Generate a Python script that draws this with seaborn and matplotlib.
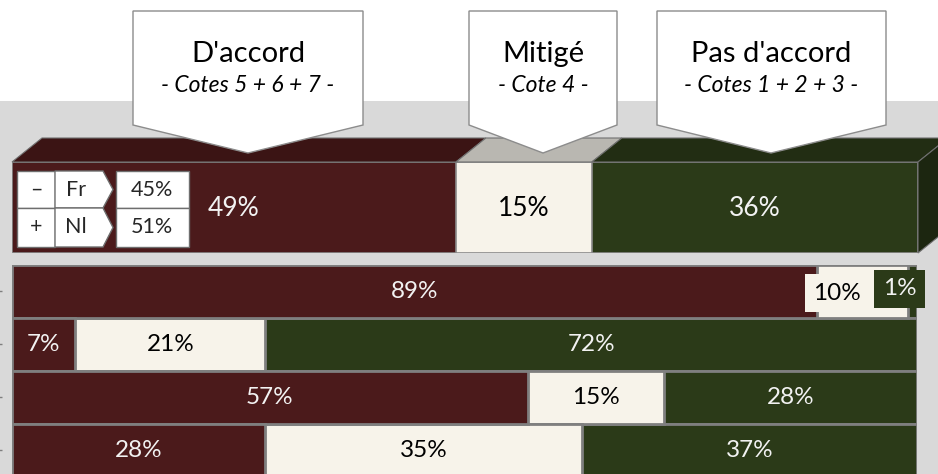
import numpy as np
import pandas as pd
import matplotlib.pyplot as plt
import seaborn as sns
from matplotlib.patches import Polygon, Rectangle

# overall score (3D bar on top)
overall_labels = ["D'accord", "Mitigé", "Pas d'accord"]
overall_subs = ["- Cotes 5 + 6 + 7 -", "- Cote 4 -", "- Cotes 1 + 2 + 3 -"]
overall_values = [49, 15, 36]

# language split for the "D'accord" share
lang_signs = ["–", "+"]
lang_names = ["Fr", "Nl"]
lang_values = [45, 51]

# detail rows
items = ["Item 1", "Item 2", "Item 3", "Item 4"]
agree = [89, 7, 57, 28]
mixed = [10, 21, 15, 35]
disagree = [1, 72, 28, 37]

RED, CREAM, GREEN = "#4b1a1b", "#f7f3ea", "#2b3a18"
RED_TOP, CREAM_TOP, GREEN_TOP = "#3b1414", "#b9b7b1", "#222d13"
GREEN_SIDE = "#1c2610"
EDGE = "#7f7f7f"

W, H = 938, 474

sns.set_theme(style="white")
plt.rcParams["font.family"] = ["Lato", "DejaVu Sans"]

fig = plt.figure(figsize=(W / 100, H / 100), dpi=100)
fig.patch.set_facecolor("white")


def fx(x):
    return x / W


def fy(y):
    return 1 - y / H


def pix(pts):
    return [(fx(x), fy(y)) for x, y in pts]


# grey panel behind the bars
fig.add_artist(Rectangle((0, 0), 1, fy(101), transform=fig.transFigure,
                         facecolor="#d9d9d9", edgecolor="none", zorder=-5))

# ---- top 3D bar ----
ax_top = fig.add_axes([fx(12), fy(253), fx(918) - fx(12), fy(162) - fy(253)])
top_df = pd.DataFrame({"seg": ["Total"], "agree": [overall_values[0]],
                       "to_mixed": [overall_values[0] + overall_values[1]],
                       "total": [sum(overall_values)]})
for col, c in [("total", GREEN), ("to_mixed", CREAM), ("agree", RED)]:
    sns.barplot(data=top_df, x=col, y="seg", orient="h", color=c, saturation=1,
                width=1, edgecolor="#8a8a8a", linewidth=1.2, ax=ax_top)
ax_top.set_xlim(0, 100)
ax_top.set_ylim(0.5, -0.5)
ax_top.axis("off")

dx, dy = 30 / 906 * 100, 24 / 91
starts = np.concatenate([[0], np.cumsum(overall_values)[:-1]])
ends = np.cumsum(overall_values)
for s, e, c in zip(starts, ends, [RED_TOP, CREAM_TOP, GREEN_TOP]):
    ax_top.add_patch(Polygon([(s, -0.5), (e, -0.5), (e + dx, -0.5 - dy), (s + dx, -0.5 - dy)],
                             closed=True, facecolor=c, edgecolor="#6f6f6f", linewidth=0.8,
                             clip_on=False))
ax_top.add_patch(Polygon([(ends[-1], -0.5), (ends[-1] + dx, -0.5 - dy),
                          (ends[-1] + dx, 0.5 - dy), (ends[-1], 0.5)],
                         closed=True, facecolor=GREEN_SIDE, edgecolor="#6f6f6f",
                         linewidth=0.8, clip_on=False))
for s, e, v, c in zip(starts, ends, overall_values, ["#f2f2f2", "black", "#f2f2f2"]):
    ax_top.text((s + e) / 2, 0.01, f"{v}%", color=c, fontsize=19,
                ha="center", va="center")

# callouts
callouts = [(133, 363, 248), (469, 617, 543), (657, 886, 771)]
for (x0, x1, tip), lab, sub in zip(callouts, overall_labels, overall_subs):
    fig.add_artist(Polygon(pix([(x0, 11), (x1, 11), (x1, 125), (tip, 153), (x0, 125)]),
                           closed=True, transform=fig.transFigure, facecolor="white",
                           edgecolor="#8c8c8c", linewidth=1, zorder=2))
    cx = (x0 + x1) / 2
    fig.text(fx(cx), fy(54), lab, ha="center", va="center", fontsize=21,
             color="black", zorder=3)
    fig.text(fx(cx), fy(86), sub, ha="center", va="center", fontsize=16.5,
             style="italic", color="black", zorder=3)

# Fr / Nl mini table
rows_y = [(171, 208), (208, 247)]
for (y0, y1), sign, name, v in zip(rows_y, lang_signs, lang_names, lang_values):
    ym = (y0 + y1) / 2
    fig.add_artist(Polygon(pix([(17, y0), (55, y0), (55, y1), (17, y1)]),
                           transform=fig.transFigure, facecolor="white",
                           edgecolor="#6e6e6e", linewidth=1, zorder=2))
    fig.add_artist(Polygon(pix([(55, y0), (103, y0), (113, ym), (103, y1), (55, y1)]),
                           transform=fig.transFigure, facecolor="white",
                           edgecolor="#6e6e6e", linewidth=1, zorder=2))
    fig.add_artist(Polygon(pix([(116, y0), (189, y0), (189, y1), (116, y1)]),
                           transform=fig.transFigure, facecolor="white",
                           edgecolor="#6e6e6e", linewidth=1, zorder=2))
    fig.text(fx(36), fy(ym), sign, ha="center", va="center", fontsize=15.5, zorder=3)
    fig.text(fx(76), fy(ym), name, ha="center", va="center", fontsize=15.5, zorder=3)
    fig.text(fx(152), fy(ym), f"{v}%", ha="center", va="center", fontsize=15.5, zorder=3)

# ---- detail bars ----
ax_bot = fig.add_axes([fx(12), 0, fx(917) - fx(12), fy(264.5)])
df = pd.DataFrame({"item": items, "agree": agree, "mixed": mixed, "disagree": disagree})
df["to_mixed"] = df["agree"] + df["mixed"]
df["total"] = df["to_mixed"] + df["disagree"]
for col, c in [("total", GREEN), ("to_mixed", CREAM), ("agree", RED)]:
    sns.barplot(data=df, x=col, y="item", orient="h", color=c, saturation=1,
                width=1, edgecolor=EDGE, linewidth=2, ax=ax_bot)
ax_bot.set_xlim(0, 100)
ax_bot.set_ylim(-0.5 + (474 - 264.5) / 53, -0.5)
ax_bot.set_xlabel("")
ax_bot.set_ylabel("")
ax_bot.set_xticks([])
for sp in ax_bot.spines.values():
    sp.set_visible(False)
ax_bot.spines["left"].set_position(("outward", 7.5))
ax_bot.tick_params(axis="y", left=True, length=2, width=1, color="#7f7f7f",
                   labelleft=False, direction="out")

for i, row in df.iterrows():
    segs = [(0, row["agree"], row["agree"], "#f2f2f2", None),
            (row["agree"], row["to_mixed"], row["mixed"], "black", CREAM),
            (row["to_mixed"], row["total"], row["disagree"], "#f2f2f2", GREEN)]
    for s, e, v, tc, bc in segs:
        x = (s + e) / 2
        y = i + 0.01
        box = None
        if i == 0 and v == 10:
            x, y = 91.2, 0.04
        if v < 5:
            x, y = 98.1, -0.04
        if i == 0 and v < 12:
            box = dict(boxstyle="square,pad=0.36", facecolor=bc, edgecolor="none")
        ax_bot.text(x, y, f"{v}%", color=tc, fontsize=17.5, ha="center",
                    va="center", bbox=box, clip_on=False, zorder=5)

fig.savefig("out.png", dpi=100)
